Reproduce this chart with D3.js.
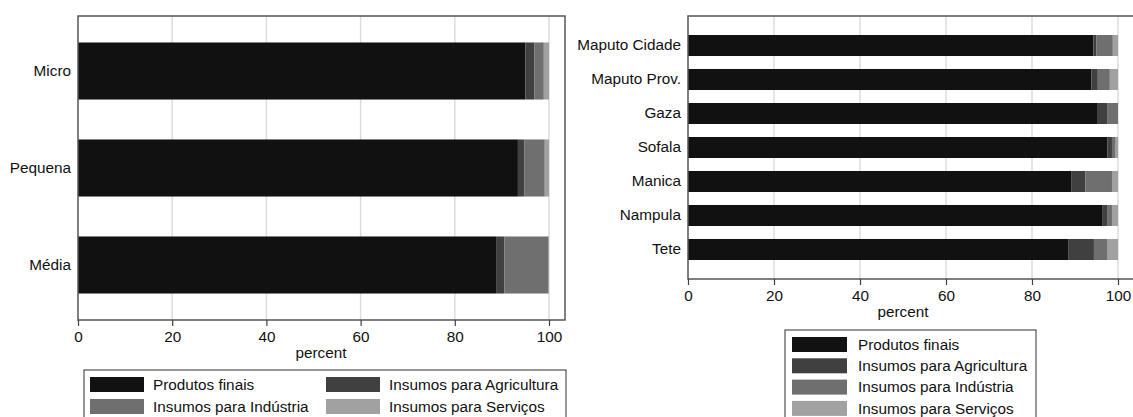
<!DOCTYPE html>
<html><head><meta charset="utf-8">
<script src="https://cdn.jsdelivr.net/npm/d3@7"></script>
<style>
html,body{margin:0;padding:0;background:#fff;}
svg{display:block;font-family:"Liberation Sans",Arial,sans-serif;}
</style></head>
<body>
<svg id="chart" width="1133" height="417"></svg>
<script>
const seriesNames = ["Produtos finais","Insumos para Agricultura","Insumos para Indústria","Insumos para Serviços"];
const seriesKeys = ["finais","agric","industria","servicos"];
const seriesColors = ["#111111","#404040","#6f6f6f","#a1a1a1"];

const sizes = ["Micro","Pequena","Média"];
const sizeFinais = [95.0, 93.4, 88.9];
const sizeAgric = [1.9, 1.4, 1.6];
const sizeIndustria = [2.0, 4.3, 9.3];
const sizeServicos = [1.1, 0.9, 0.2];

const provinces = ["Maputo Cidade","Maputo Prov.","Gaza","Sofala","Manica","Nampula","Tete"];
const provFinais = [94.3, 93.8, 95.3, 97.5, 89.1, 96.3, 88.4];
const provAgric = [0.7, 1.5, 2.3, 1.1, 3.3, 1.3, 6.0];
const provIndustria = [3.8, 2.8, 2.4, 0.7, 6.2, 1.0, 3.2];
const provServicos = [1.2, 1.9, 0.0, 0.7, 1.4, 1.4, 2.4];

const xTicks = [0,20,40,60,80,100];

const svg = d3.select("#chart");
const FS = 15.3;

function build(cats, a, b, c, d){
  return cats.map((k,i)=>({cat:k, finais:a[i], agric:b[i], industria:c[i], servicos:d[i]}));
}

function panel(opt){
  const g = svg.append("g");
  const x = d3.scaleLinear().domain([0,100]).range([opt.x0, opt.x100]);
  const y = d3.scaleBand().domain(opt.cats).range([opt.top, opt.bottom])
    .paddingInner(opt.pi).paddingOuter(opt.po);
  g.selectAll(".grid").data(xTicks.slice(1)).enter().append("line")
    .attr("x1", d=>x(d)).attr("x2", d=>x(d))
    .attr("y1", opt.top).attr("y2", opt.bottom)
    .attr("stroke","#dcdcdc").attr("stroke-width",1.5);
  const data = build(opt.cats, opt.a, opt.b, opt.c, opt.d);
  const stacked = d3.stack().keys(seriesKeys)(data);
  stacked.forEach((s,si)=>{
    g.selectAll(null).data(s).enter().append("rect")
      .attr("x", d=>x(d[0])).attr("width", d=>Math.max(0, x(d[1])-x(d[0])))
      .attr("y", d=>y(d.data.cat)).attr("height", y.bandwidth())
      .attr("fill", seriesColors[si]);
  });
  g.append("rect").attr("x", opt.x0).attr("y", opt.top)
    .attr("width", opt.right - opt.x0).attr("height", opt.bottom - opt.top)
    .attr("fill","none").attr("stroke","#555").attr("stroke-width",1.5);
  const xa = g.append("g").attr("transform",`translate(0,${opt.bottom})`)
    .call(d3.axisBottom(x).tickValues(xTicks).tickSize(6).tickPadding(5).tickSizeOuter(0));
  xa.select(".domain").remove();
  xa.selectAll("line").attr("stroke","#404040").attr("stroke-width",1.2);
  xa.selectAll("text").attr("font-size",FS).attr("fill","#111").attr("font-family","Liberation Sans, Arial, sans-serif");
  const ya = g.append("g").attr("transform",`translate(${opt.x0},0)`)
    .call(d3.axisLeft(y).tickSize(0).tickPadding(7));
  ya.select(".domain").remove();
  ya.selectAll("text").attr("font-size",FS).attr("fill","#111").attr("font-family","Liberation Sans, Arial, sans-serif");
  g.append("text").attr("x", opt.titleX).attr("y", opt.titleY)
    .attr("text-anchor","middle").attr("font-size",FS).attr("fill","#111").text("percent");
  return g;
}

panel({cats:sizes, a:sizeFinais, b:sizeAgric, c:sizeIndustria, d:sizeServicos,
  x0:78, x100:549, right:565, top:16, bottom:320, pi:0.412, po:0.273, titleX:321, titleY:358});
panel({cats:provinces, a:provFinais, b:provAgric, c:provIndustria, d:provServicos,
  x0:688, x100:1118, right:1140, top:16, bottom:279, pi:0.382, po:0.559, titleX:903, titleY:317});

function legend(opt){
  const g = svg.append("g");
  g.append("rect").attr("x",opt.x).attr("y",opt.y).attr("width",opt.w).attr("height",opt.h)
    .attr("fill","#fff").attr("stroke","#505050").attr("stroke-width",1.2);
  seriesNames.forEach((n,i)=>{
    const col = i % opt.cols, row = Math.floor(i/opt.cols);
    const sx = opt.x + opt.padX + col*opt.colW;
    const sy = opt.y + opt.padY + row*opt.rowH;
    g.append("rect").attr("x",sx).attr("y",sy).attr("width",opt.sw).attr("height",15)
      .attr("fill",seriesColors[i]);
    g.append("text").attr("x",sx+opt.sw+opt.gap).attr("y",sy+7.5).attr("dy","0.35em")
      .attr("font-size",FS).attr("fill","#111").text(n);
  });
}
legend({x:84, y:370, w:482, h:60, cols:2, colW:236, rowH:22, padX:6, padY:7, sw:54, gap:9});
legend({x:785, y:330, w:251, h:100, cols:1, colW:0, rowH:21.3, padX:7, padY:7, sw:55, gap:11});
</script>
</body></html>
